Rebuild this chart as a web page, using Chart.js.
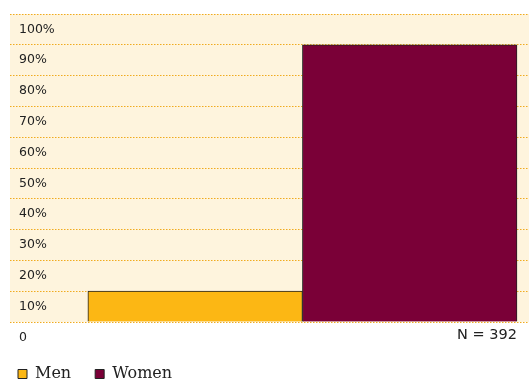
<!DOCTYPE html>
<html>
<head>
<meta charset="utf-8">
<script src="https://cdn.jsdelivr.net/npm/chart.js@4"></script>
<style>
  body { margin: 0; background: #fff; }
</style>
</head>
<body>
<canvas id="shareChart" width="529" height="384"></canvas>
<script>
// Respondents by gender, share in %
const categories = ['Men', 'Women'];
const shares = [10, 90];
const barColors = ['#fcb714', '#7a0037'];
const yTickLabels = ['0', '10%', '20%', '30%', '40%', '50%', '60%', '70%', '80%', '90%', '100%'];
const sampleNote = 'N = 392';

// Cream fill behind the plot area
const plotBackground = {
    id: 'plotBackground',
    beforeDraw(chart) {
        const { ctx, chartArea: a } = chart;
        ctx.save();
        ctx.fillStyle = '#fef4dd';
        ctx.fillRect(a.left, a.top, a.right - a.left, a.bottom - a.top);
        ctx.restore();
    }
};

const ctx = document.getElementById('shareChart').getContext('2d');
const shareChart = new Chart(ctx, {
    type: 'bar',
    data: {
        datasets: categories.map((name, i) => ({
            label: name,
            data: [{ x: i + 1, y: shares[i] }],
            backgroundColor: barColors[i],
            borderColor: '#222',
            borderWidth: 1,
            grouped: false,
            categoryPercentage: 1,
            barPercentage: 1
        }))
    },
    options: {
        responsive: false,
        animation: false,
        layout: { padding: { left: -6, right: 0, top: 14, bottom: -8 } },
        plugins: {
            tooltip: { enabled: false },
            legend: {
                position: 'bottom',
                align: 'start',
                labels: {
                    boxWidth: 9,
                    boxHeight: 9,
                    padding: 24,
                    color: '#222',
                    font: { family: 'DejaVu Serif', size: 16 }
                }
            }
        },
        scales: {
            x: {
                type: 'linear',
                min: 0.137,
                max: 2.556,
                offset: false,
                grid: { display: false, drawTicks: false, offset: false },
                border: { display: false },
                // single tick at the right edge of the last bar carries the sample size
                afterBuildTicks: axis => { axis.ticks = [{ value: categories.length + 0.5 }]; },
                afterFit: axis => { axis.height = 20; },
                ticks: {
                    align: 'end',
                    maxRotation: 0,
                    padding: 5,
                    color: '#222',
                    font: { family: 'DejaVu Sans', size: 14.5 },
                    callback: () => sampleNote
                }
            },
            y: {
                min: 0,
                max: 100,
                afterFit: axis => {
                    axis.width = 16;
                    axis.paddingTop = 0;
                    axis.paddingBottom = 0;
                },
                grid: { color: '#f0ab1e', lineWidth: 1, drawTicks: false },
                border: { display: false, dash: [1.5, 1.5] },
                ticks: {
                    stepSize: 10,
                    mirror: true,
                    padding: 9,
                    labelOffset: 15.4,
                    color: '#222',
                    font: { family: 'DejaVu Sans', size: 12.5 },
                    callback: (value, i) => yTickLabels[i]
                }
            }
        }
    },
    plugins: [plotBackground]
});
</script>
</body>
</html>
